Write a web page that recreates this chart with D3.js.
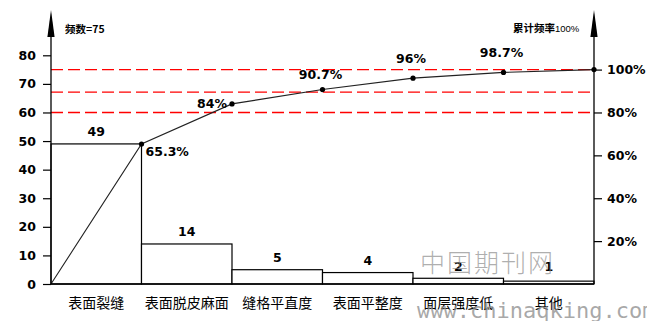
<!DOCTYPE html>
<html><head><meta charset="utf-8">
<script src="https://cdn.jsdelivr.net/npm/d3@7/dist/d3.min.js"></script>
<style>body{margin:0;background:#fff}svg{display:block}</style>
</head><body>
<svg id="c" width="647" height="321"></svg>
<script>
const categories = ["表面裂缝","表面脱皮麻面","缝格平直度","表面平整度","面层强度低","其他"];
const counts = [49,14,5,4,2,1];
const cumPct = [65.3,84,90.7,96,98.7,100];
const cumLabels = ["65.3%","84%","90.7%","96%","98.7%",""];
const leftTicks = [0,10,20,30,40,50,60,70,80];
const rightTicks = [20,40,60,80,100];
const refLines = [100,89.5,80];

const svg = d3.select("#c");
const X0=51, X1=594, Y0=284;
const x = d3.scaleBand().domain(categories).range([X0,X1]).padding(0);
const y = d3.scaleLinear().domain([0,80]).range([Y0,55.3]);
const yp = d3.scaleLinear().domain([0,100]).range([Y0,y(75)]);
const numFont = "DejaVu Sans, Verdana, sans-serif";

// reference dashed lines
svg.selectAll("line.ref").data(refLines).join("line")
  .attr("x1",X0).attr("x2",X1).attr("y1",d=>yp(d)).attr("y2",d=>yp(d))
  .attr("stroke","#ff0000").attr("stroke-width",1.3).attr("stroke-dasharray","12,5");

// bars
svg.selectAll("rect.bar").data(counts).join("rect")
  .attr("x",(d,i)=>x(categories[i])).attr("width",x.bandwidth())
  .attr("y",d=>y(d)).attr("height",d=>Y0-y(d))
  .attr("fill","#fff").attr("stroke","#000").attr("stroke-width",1.2);

// bar labels
svg.selectAll("text.bl").data(counts).join("text")
  .attr("x",(d,i)=>x(categories[i])+x.bandwidth()/2)
  .attr("y",d=>Math.min(y(d)-12,266)+4.5)
  .attr("text-anchor","middle").attr("font-family",numFont).attr("font-weight","bold")
  .attr("font-size",12.5).text(d=>d);

// cumulative line
const pts = [[X0,yp(0)]].concat(cumPct.map((p,i)=>[x(categories[i])+x.bandwidth(),yp(p)]));
svg.append("path").attr("d",d3.line()(pts)).attr("fill","none").attr("stroke","#222").attr("stroke-width",1.1);
svg.selectAll("circle.pt").data(cumPct).join("circle")
  .attr("cx",(d,i)=>x(categories[i])+x.bandwidth()).attr("cy",d=>yp(d)).attr("r",2.6).attr("fill","#000");

// cumulative labels
svg.selectAll("text.cl").data(cumLabels).join("text")
  .attr("x",(d,i)=>{const px=x(categories[i])+x.bandwidth(); return i===0?px+4:(i===1?px-5:px-2);})
  .attr("y",(d,i)=>{const py=yp(cumPct[i]); return i===0?py+12.5:(i===1?py+4:py-11-(i>2?4:0));})
  .attr("text-anchor",(d,i)=>i===0?"start":(i===1?"end":"middle"))
  .attr("font-family",numFont).attr("font-weight","bold").attr("font-size",12.5).text(d=>d);

// axes
const gl = svg.append("g").attr("transform",`translate(${X0},0)`)
  .call(d3.axisLeft(y).tickValues(leftTicks).tickSize(8).tickPadding(7).tickFormat(d3.format("d")));
const gr = svg.append("g").attr("transform",`translate(${X1},0)`)
  .call(d3.axisRight(yp).tickValues(rightTicks).tickSize(8).tickPadding(5).tickFormat(d=>d+"%"));
[gl,gr].forEach(g=>{
  g.select(".domain").remove();
  g.selectAll(".tick line").attr("stroke","#000").attr("stroke-width",1.2);
  g.selectAll(".tick text").attr("font-family",numFont).attr("font-weight","bold").attr("font-size",12.5).attr("fill","#000");
});
// axis lines with arrows
[X0,X1].forEach(ax=>{
  svg.append("line").attr("x1",ax).attr("x2",ax).attr("y1",Y0).attr("y2",30).attr("stroke","#000").attr("stroke-width",1.3);
  svg.append("path").attr("d",`M${ax},10L${ax-3.6},37L${ax+3.6},37Z`).attr("fill","#000");
});
svg.append("line").attr("x1",X0).attr("x2",X1).attr("y1",Y0).attr("y2",Y0).attr("stroke","#000").attr("stroke-width",1.3);

// category labels
const ga = svg.append("g").attr("transform",`translate(0,${Y0})`)
  .call(d3.axisBottom(x).tickSize(0).tickPadding(14));
ga.select(".domain").remove();
ga.selectAll(".tick text").attr("font-family","Noto Sans CJK SC, sans-serif").attr("font-size",14).attr("fill","#000");

// axis titles
svg.append("text").attr("x",65).attr("y",33).attr("font-family","Noto Sans CJK SC, sans-serif").attr("font-weight","bold").attr("font-size",10.5).text("频数=75");
const t2 = svg.append("text").attr("x",513).attr("y",32).attr("font-family","Noto Sans CJK SC, sans-serif").attr("font-weight","bold").attr("font-size",10.5);
t2.append("tspan").text("累计频率");
t2.append("tspan").attr("font-family","Liberation Sans, Arial, sans-serif").attr("font-weight","normal").attr("font-size",9.5).text("100%");

// watermark
svg.append("text").attr("x",420).attr("y",272).attr("font-family","Noto Sans CJK SC, sans-serif").attr("font-weight","300")
  .attr("font-size",25).attr("fill","#8c8c8c").attr("fill-opacity",0.7).attr("letter-spacing",2).text("中国期刊网");
svg.append("text").attr("x",417).attr("y",318).attr("font-family","DejaVu Sans Mono, monospace")
  .attr("font-size",22).attr("fill","#8c8c8c").attr("fill-opacity",0.75).text("www.chinaqking.com");
</script>
</body></html>
